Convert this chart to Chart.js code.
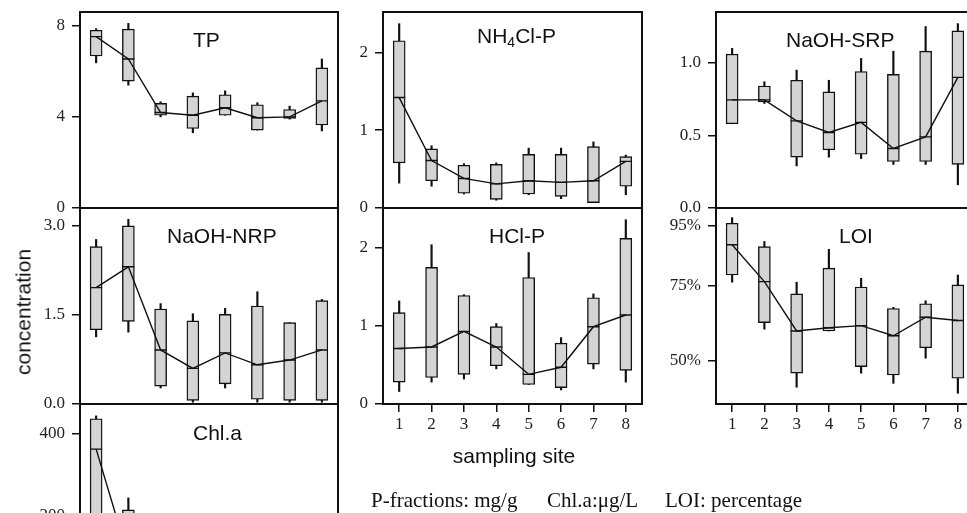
<!DOCTYPE html>
<html>
<head>
<meta charset="utf-8">
<script src="https://cdn.jsdelivr.net/npm/chart.js@4.4.0/dist/chart.umd.min.js"></script>
<style>
  html, body { margin: 0; padding: 0; background: #fff; }
  body { width: 967px; height: 513px; overflow: hidden; position: relative; }
  canvas { position: absolute; }
  .title { position: absolute; font-family: 'Liberation Sans', Arial, sans-serif; font-size: 21px; line-height: 1; color: #111; white-space: nowrap; }
  .title sub { font-size: 14px; vertical-align: -4px; line-height: 0; }
  .note { position: absolute; top: 490px; font-family: 'Liberation Serif', 'Times New Roman', serif; font-size: 21px; line-height: 1; color: #111; white-space: nowrap; }
</style>
</head>
<body>
<canvas id="tp"></canvas>
<canvas id="nh4"></canvas>
<canvas id="srp"></canvas>
<canvas id="nrp"></canvas>
<canvas id="hcl"></canvas>
<canvas id="loi"></canvas>
<canvas id="chla"></canvas>

<div class="title" style="left:193px; top:29px;">TP</div>
<div class="title" style="left:477px; top:25px;">NH<sub>4</sub>Cl-P</div>
<div class="title" style="left:786px; top:29px;">NaOH-SRP</div>
<div class="title" style="left:167px; top:225px;">NaOH-NRP</div>
<div class="title" style="left:489px; top:225px;">HCl-P</div>
<div class="title" style="left:839px; top:225px;">LOI</div>
<div class="title" style="left:193px; top:422px;">Chl.a</div>
<div class="title" style="left:23px; top:312px; transform: translate(-50%, -50%) rotate(-90deg);">concentration</div>
<div class="title" style="left:514px; top:455px; transform: translate(-50%, -50%);">sampling site</div>
<div class="note" style="left:371px;">P-fractions: mg/g</div>
<div class="note" style="left:547px;">Chl.a:μg/L</div>
<div class="note" style="left:665px;">LOI: percentage</div>

<script>
// sítios de amostragem
const sites = ['1', '2', '3', '4', '5', '6', '7', '8'];

// TP
const tpLow  = [6.37, 5.39, 4.00, 3.30, 4.07, 3.42, 3.90, 3.38];
const tpQ1   = [6.67, 5.57, 4.07, 3.49, 4.07, 3.42, 3.93, 3.64];
const tpMed  = [7.52, 6.54, 4.19, 4.07, 4.40, 3.96, 4.00, 4.70];
const tpQ3   = [7.80, 7.85, 4.59, 4.91, 4.97, 4.53, 4.32, 6.15];
const tpHigh = [7.87, 8.10, 4.66, 5.05, 5.14, 4.62, 4.47, 6.54];
const tpTicks = [0, 4, 8];
const tpLabels = ['0', '4', '8'];

// NH4Cl-P
const nh4Low  = [0.32, 0.28, 0.18, 0.10, 0.17, 0.12, 0.07, 0.17];
const nh4Q1   = [0.58, 0.35, 0.19, 0.11, 0.18, 0.15, 0.07, 0.28];
const nh4Med  = [1.42, 0.61, 0.38, 0.31, 0.35, 0.33, 0.35, 0.60];
const nh4Q3   = [2.15, 0.76, 0.55, 0.56, 0.69, 0.69, 0.79, 0.66];
const nh4High = [2.37, 0.80, 0.57, 0.58, 0.77, 0.77, 0.85, 0.68];
const nh4Ticks = [0, 1, 2];
const nh4Labels = ['0', '1', '2'];

// NaOH-SRP
const srpLow  = [0.58, 0.72, 0.29, 0.35, 0.34, 0.30, 0.30, 0.16];
const srpQ1   = [0.58, 0.73, 0.35, 0.40, 0.37, 0.32, 0.32, 0.30];
const srpMed  = [0.745, 0.745, 0.60, 0.52, 0.59, 0.41, 0.49, 0.90];
const srpQ3   = [1.06, 0.84, 0.88, 0.80, 0.94, 0.92, 1.08, 1.22];
const srpHigh = [1.10, 0.87, 0.95, 0.88, 1.03, 1.08, 1.25, 1.27];
const srpTicks = [0, 0.5, 1.0];
const srpLabels = ['0.0', '0.5', '1.0'];

// NaOH-NRP
const nrpLow  = [1.13, 1.21, 0.27, 0.03, 0.27, 0.03, 0.03, 0.03];
const nrpQ1   = [1.25, 1.39, 0.30, 0.06, 0.34, 0.08, 0.06, 0.06];
const nrpMed  = [1.96, 2.31, 0.91, 0.60, 0.86, 0.66, 0.74, 0.91];
const nrpQ3   = [2.65, 3.00, 1.60, 1.40, 1.51, 1.65, 1.37, 1.74];
const nrpHigh = [2.77, 3.11, 1.69, 1.52, 1.61, 1.89, 1.37, 1.76];
const nrpTicks = [0, 1.5, 3.0];
const nrpLabels = ['0.0', '1.5', '3.0'];

// HCl-P
const hclLow  = [0.16, 0.28, 0.32, 0.45, 0.25, 0.18, 0.45, 0.28];
const hclQ1   = [0.28, 0.34, 0.38, 0.49, 0.25, 0.21, 0.51, 0.43];
const hclMed  = [0.71, 0.73, 0.93, 0.73, 0.38, 0.47, 0.99, 1.14];
const hclQ3   = [1.17, 1.75, 1.39, 0.99, 1.62, 0.78, 1.36, 2.12];
const hclHigh = [1.32, 2.04, 1.40, 1.03, 1.94, 0.85, 1.41, 2.36];
const hclTicks = [0, 1, 2];
const hclLabels = ['0', '1', '2'];

// LOI (%)
const loiLow  = [76.2, 60.5, 41.1, 59.9, 45.8, 42.4, 50.8, 39.1];
const loiQ1   = [78.6, 62.7, 45.8, 59.9, 48.0, 45.2, 54.3, 44.1];
const loiMed  = [88.7, 76.4, 59.9, 61.0, 61.7, 58.3, 64.5, 63.4];
const loiQ3   = [95.9, 88.1, 72.3, 80.9, 74.6, 67.4, 69.0, 75.3];
const loiHigh = [97.8, 89.8, 76.2, 87.2, 77.5, 67.8, 70.0, 78.6];
const loiTicks = [50, 75, 95];
const loiLabels = ['50%', '75%', '95%'];

// Chl.a (μg/L)
const chlLow  = [120, 20, 10, 10, 12, 10, 10, 12];
const chlQ1   = [150, 40, 20, 18, 22, 20, 18, 25];
const chlMed  = [363, 100, 45, 35, 40, 38, 35, 50];
const chlQ3   = [437, 215, 80, 60, 70, 65, 60, 90];
const chlHigh = [444, 244, 110, 80, 95, 85, 80, 120];
const chlTicks = [0, 200, 400];
const chlLabels = ['0', '200', '400'];

Chart.defaults.font.family = "'Liberation Serif', 'Times New Roman', serif";
Chart.defaults.color = '#222';
Chart.defaults.animation = false;

// moldura preta em volta de cada painel
const framePlugin = {
    id: 'frame',
    afterDatasetsDraw(chart) {
        const a = chart.chartArea;
        const c = chart.ctx;
        c.save();
        c.strokeStyle = '#111';
        c.lineWidth = 2;
        c.strokeRect(a.left, a.top, a.right - a.left, a.bottom - a.top);
        c.restore();
    }
};

// Desenha um painel de boxplots + linha das medianas
function boxPanel(id, low, q1, med, q3, high, ticks, labels, yMin, yMax, left, top, width, height, withX) {
    const canvas = document.getElementById(id);
    const axisW = 70, padTop = 20, padRight = 12;
    const bottom = withX ? 45 : 20;
    canvas.width = axisW + width + padRight;
    canvas.height = padTop + height + bottom;
    canvas.style.left = (left - axisW) + 'px';
    canvas.style.top = (top - padTop) + 'px';

    new Chart(canvas.getContext('2d'), {
        type: 'bar',
        data: {
            labels: sites,
            datasets: [
                {
                    type: 'line',
                    data: med,
                    borderColor: '#111',
                    borderWidth: 1.4,
                    pointStyle: 'line',
                    pointRadius: 6,
                    pointBorderWidth: 1.4,
                    pointBorderColor: '#111',
                    tension: 0,
                    order: 0
                },
                {
                    data: q1.map((v, i) => [v, q3[i]]),
                    backgroundColor: '#d4d4d4',
                    borderColor: '#111',
                    borderWidth: 1.4,
                    borderSkipped: false,
                    barThickness: 12,
                    grouped: false,
                    order: 1
                },
                {
                    data: low.map((v, i) => [v, high[i]]),
                    backgroundColor: '#111',
                    barThickness: 1.5,
                    grouped: false,
                    order: 2
                }
            ]
        },
        options: {
            responsive: false,
            layout: { autoPadding: false, padding: { top: padTop, right: padRight, left: 0, bottom: 0 } },
            plugins: { legend: { display: false }, tooltip: { enabled: false } },
            scales: {
                x: {
                    type: 'category',
                    offset: true,
                    // o eixo fica sempre ativo; só mostra marcas na última linha
                    grid: { display: withX, drawOnChartArea: false, drawTicks: true, tickLength: 8, color: '#111', lineWidth: 1.5, offset: false },
                    border: { display: false },
                    ticks: { display: withX, font: { size: 17 }, padding: 2, maxRotation: 0 },
                    afterFit: s => { s.height = bottom; }
                },
                y: {
                    min: yMin,
                    max: yMax,
                    grid: { drawOnChartArea: false, drawTicks: true, tickLength: 8, color: '#111', lineWidth: 1.5 },
                    border: { display: false },
                    ticks: { font: { size: 17 }, padding: 7, callback: (v, i) => labels[i] },
                    afterBuildTicks: s => { s.ticks = ticks.map(v => ({ value: v })); },
                    afterFit: s => { s.width = axisW; }
                }
            }
        },
        plugins: [framePlugin]
    });
}

boxPanel('tp',   tpLow,  tpQ1,  tpMed,  tpQ3,  tpHigh,  tpTicks,  tpLabels,  0, 8.6,  80, 12, 258, 196, false);
boxPanel('nh4',  nh4Low, nh4Q1, nh4Med, nh4Q3, nh4High, nh4Ticks, nh4Labels, 0, 2.52, 383, 12, 259, 196, false);
boxPanel('srp',  srpLow, srpQ1, srpMed, srpQ3, srpHigh, srpTicks, srpLabels, 0, 1.35, 716, 12, 258, 196, false);
boxPanel('nrp',  nrpLow, nrpQ1, nrpMed, nrpQ3, nrpHigh, nrpTicks, nrpLabels, 0, 3.3,  80, 208, 258, 196, false);
boxPanel('hcl',  hclLow, hclQ1, hclMed, hclQ3, hclHigh, hclTicks, hclLabels, 0, 2.51, 383, 208, 259, 196, true);
boxPanel('loi',  loiLow, loiQ1, loiMed, loiQ3, loiHigh, loiTicks, loiLabels, 35.5, 101, 716, 208, 258, 196, true);
boxPanel('chla', chlLow, chlQ1, chlMed, chlQ3, chlHigh, chlTicks, chlLabels, 0, 473, 80, 404, 258, 194, false);
</script>
</body>
</html>
